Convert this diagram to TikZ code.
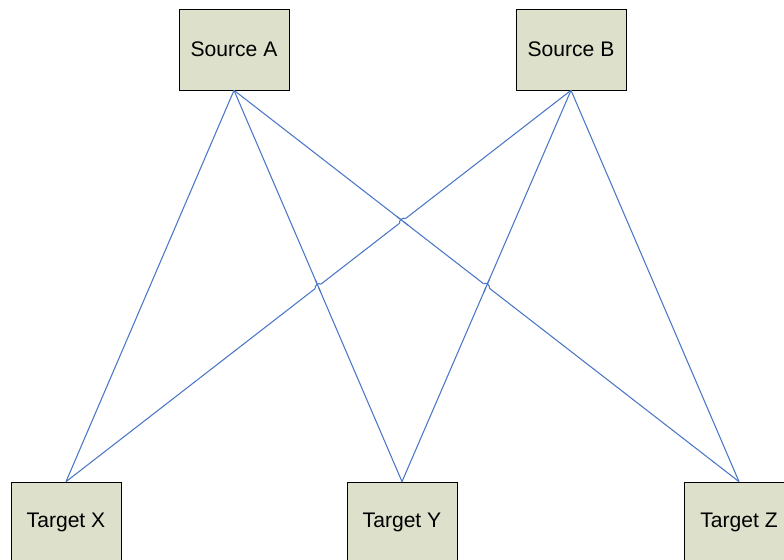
\documentclass[tikz,border=0pt]{standalone}
\usepackage{fontspec}
\setmainfont{Liberation Sans}
\usetikzlibrary{intersections,calc}
\definecolor{boxfill}{HTML}{DDE0CA}
\definecolor{linkblue}{HTML}{4A76C6}
\begin{document}
\begin{tikzpicture}[
    x=0.02cm, y=-0.02cm,
    box/.style={draw, fill=boxfill, minimum width=2.2cm, minimum height=1.62cm, inner sep=0pt, font=\fontsize{12}{14}\selectfont},
    link/.style={draw=linkblue, line width=0.6pt},
    gap/.style={draw=white, line width=1.6pt}
]
\useasboundingbox (0,0) rectangle (784,560);
\clip (0,0) rectangle (784,560);
\node[box] at (234,49.5) (srcA) {Source A};
\node[box] at (571,49.5) (srcB) {Source B};
\node[box] at (66,522.5) (tgtX) {Target X};
\node[box] at (402,522.5) (tgtY) {Target Y};
\node[box] at (739,522.5) (tgtZ) {Target Z};

\draw[link] (srcA.south) -- (tgtX.north);
\draw[link, name path=aY] (srcA.south) -- (tgtY.north);
\draw[link, name path=aZ] (srcA.south) -- (tgtZ.north);
\draw[link, name path=bX] (srcB.south) -- (tgtX.north);
\draw[link, name path=bY] (srcB.south) -- (tgtY.north);
\draw[link] (srcB.south) -- (tgtZ.north);

% line hops
\path[name intersections={of=aZ and bX, by=hop1}];
\path[name intersections={of=aY and bX, by=hop2}];
\path[name intersections={of=aZ and bY, by=hop3}];
\draw[gap] ($(hop1)!2pt!(tgtX.north)$) -- ($(hop1)!2pt!(srcB.south)$);
\draw[gap] ($(hop2)!2pt!(tgtX.north)$) -- ($(hop2)!2pt!(srcB.south)$);
\draw[gap] ($(hop3)!2pt!(srcA.south)$) -- ($(hop3)!2pt!(tgtZ.north)$);
\draw[link] ($(hop1)!4pt!(srcA.south)$) -- ($(hop1)!4pt!(tgtZ.north)$);
\draw[link] ($(hop2)!4pt!(srcA.south)$) -- ($(hop2)!4pt!(tgtY.north)$);
\draw[link] ($(hop3)!4pt!(srcB.south)$) -- ($(hop3)!4pt!(tgtY.north)$);
\draw[link] ($(hop1)!2pt!(tgtX.north)$) to[bend left=90] ($(hop1)!2pt!(srcB.south)$);
\draw[link] ($(hop2)!2pt!(tgtX.north)$) to[bend left=90] ($(hop2)!2pt!(srcB.south)$);
\draw[link] ($(hop3)!2pt!(srcA.south)$) to[bend left=90] ($(hop3)!2pt!(tgtZ.north)$);
\end{tikzpicture}
\end{document}
